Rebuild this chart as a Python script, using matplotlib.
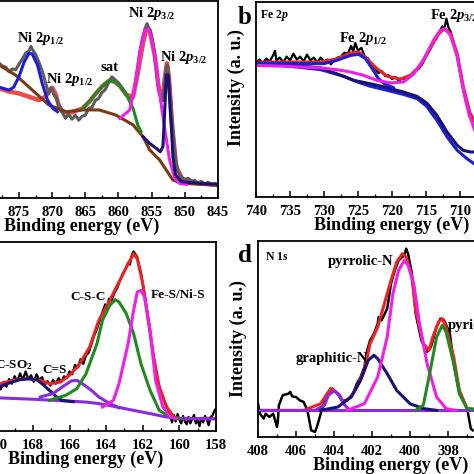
import numpy as np
import matplotlib
matplotlib.use("Agg")
import matplotlib.pyplot as plt
from matplotlib.ticker import MultipleLocator

plt.rcParams['font.family'] = ['Liberation Serif', 'DejaVu Serif']
plt.rcParams['font.weight'] = 'bold'
plt.rcParams['mathtext.fontset'] = 'custom'
plt.rcParams['mathtext.rm'] = 'Liberation Serif:bold'
plt.rcParams['mathtext.bf'] = 'Liberation Serif:bold'
plt.rcParams['mathtext.it'] = 'Liberation Serif:bold:italic'

# colours
GRAY = '#5c5c5c'
RED = '#ee2222'
BLUE = '#1c1cd8'
NAVY = '#1a1272'
BROWN = '#7a3a12'
GREEN = '#1f8a1f'
MAGENTA = '#f01ee8'
VIOLET = '#8a2be2'

# ---------------- (a) Ni 2p ----------------
a_raw_E = [878.0, 877.5, 877.0, 876.5, 876.0, 875.5, 875.0, 874.5, 874.0, 873.5, 873.2, 873.0,
           872.5, 872.0, 871.5, 871.0, 870.5, 870.2, 870.0, 869.7, 869.4, 869.0, 868.5, 868.0,
           867.5, 867.0, 866.5, 866.0, 865.5, 865.0, 864.5, 864.0, 863.5, 863.0, 862.5, 862.0,
           861.5, 861.0, 860.5, 860.0, 859.5, 859.0, 858.5, 858.0, 857.6, 857.2, 856.8, 856.4,
           856.0, 855.7, 855.4, 855.0, 854.6, 854.2, 853.8, 853.4, 853.1, 852.8, 852.6, 852.3,
           852.0, 851.7, 851.4, 851.0, 850.5, 850.0, 849.5, 849.0, 848.5, 848.0, 847.5, 847.0,
           846.5, 846.0, 845.5, 845.0]
a_raw_I = [68.5, 67.0, 66.5, 64.0, 65.5, 65.0, 68.0, 70.5, 73.5, 74.5, 77.0, 75.5,
           73.0, 69.0, 64.5, 58.5, 53.0, 56.0, 55.0, 52.0, 51.0, 47.0, 43.5, 40.5,
           42.5, 40.0, 42.0, 39.5, 41.5, 42.0, 45.5, 46.0, 49.5, 50.5, 53.5, 55.0,
           58.5, 61.5, 60.0, 58.5, 56.0, 53.5, 51.0, 50.0, 55.0, 64.0, 74.0, 81.0,
           86.0, 88.5, 86.0, 82.5, 74.0, 62.0, 53.0, 49.5, 56.0, 66.0, 67.5, 58.0,
           44.0, 31.0, 20.0, 13.0, 10.5, 9.5, 10.0, 8.5, 9.0, 7.5, 8.5, 7.0,
           8.0, 6.5, 7.5, 6.0]
a_fit_E = [878.0, 876.5, 875.0, 873.5, 872.0, 871.0, 870.5, 870.0, 869.5, 869.0, 868.5, 868.0,
           867.0, 865.4, 864.4, 863.4, 862.4, 861.4, 860.6, 859.8, 858.8, 857.8, 857.1, 856.3,
           855.8, 855.3, 854.5, 853.9, 853.4, 853.0, 852.7, 852.4, 851.9, 851.3, 850.3, 848.0, 845.0]
a_fit_I = [55.7, 54.0, 53.1, 51.4, 49.7, 51.4, 54.0, 56.0, 53.0, 47.0, 44.0, 43.5,
           43.5, 45.5, 48.9, 53.1, 56.9, 59.6, 59.1, 56.9, 52.3, 51.4, 63.3, 78.5,
           86.1, 85.3, 71.7, 54.8, 49.7, 61.6, 68.4, 61.6, 36.2, 15.9, 9.1, 7.4, 6.6]
a_bg_E = [878.0, 875.5, 873.0, 870.5, 867.9, 865.4, 862.9, 860.4, 857.8, 856.3, 855.3, 853.8,
          852.8, 851.8, 850.3, 845.0]
a_bg_I = [67.5, 62.4, 54.8, 47.2, 43.8, 44.7, 44.7, 42.1, 37.1, 31.1, 24.4, 19.3,
          14.2, 9.1, 7.4, 6.6]
a_p12_E = [878.0, 876.5, 875.8, 875.0, 874.2, 873.5, 873.0, 872.2, 871.5, 870.7, 869.9, 869.2]
a_p12_I = [56.2, 54.8, 56.2, 61.6, 69.2, 73.4, 73.1, 67.5, 58.2, 49.7, 45.5, 43.8]
a_sat_E = [865.4, 864.4, 863.4, 862.4, 861.4, 860.6, 859.8, 858.8, 857.8, 857.1, 856.6]
a_sat_I = [45.5, 48.9, 53.1, 56.9, 59.6, 59.1, 56.9, 52.3, 45.5, 37.1, 33.7]
a_p32_E = [859.8, 858.3, 857.6, 856.8, 856.1, 855.6, 855.1, 854.5, 853.8, 853.0, 852.3, 851.5,
           850.8, 849.7]
a_p32_I = [40.4, 44.7, 55.7, 73.4, 84.4, 86.1, 81.9, 71.7, 53.1, 34.5, 19.3, 10.0, 7.4, 6.9]
a_p32b_E = [856.3, 855.3, 854.3, 853.7, 853.3, 853.0, 852.9, 852.8, 852.5, 852.2, 852.0, 851.8,
            851.4, 850.5, 847.7, 845.0]
a_p32b_I = [31.1, 27.7, 25.2, 23.5, 26.1, 46.4, 54.8, 62.4, 62.4, 44.7, 34.5, 21.0,
            11.7, 8.3, 7.4, 6.9]

# ---------------- (b) Fe 2p ----------------
b_raw_E = [740.0, 739.5, 739.0, 738.5, 738.0, 737.5, 737.2, 737.0, 736.5, 736.0, 735.5, 735.0,
           734.5, 734.0, 733.5, 733.0, 732.5, 732.0, 731.5, 731.0, 730.5, 730.0, 729.5, 729.0,
           728.5, 728.0, 727.5, 727.0, 726.5, 726.0, 725.7, 725.4, 725.0, 724.5, 724.0, 723.5,
           723.0, 722.5, 722.0, 721.5, 721.0, 720.5, 720.0, 719.5, 719.0, 718.5, 718.0, 717.5,
           717.0, 716.5, 716.0, 715.5, 715.0, 714.5, 714.0, 713.5, 713.0, 712.6, 712.3, 712.0,
           711.7, 711.4, 711.0, 710.5, 710.0, 709.5, 709.0, 708.5, 708.0, 707.5]
b_raw_I = [69.0, 70.5, 68.5, 71.0, 69.5, 72.5, 75.0, 70.0, 71.5, 69.0, 72.0, 70.0,
           73.5, 70.5, 72.0, 69.5, 73.0, 70.0, 71.5, 69.0, 71.5, 69.5, 70.5, 68.0,
           70.0, 71.5, 72.0, 74.0, 73.5, 77.5, 74.5, 79.0, 75.0, 76.5, 72.0, 71.0,
           67.0, 66.0, 63.5, 64.5, 62.0, 62.5, 60.5, 61.5, 59.5, 61.0, 60.0, 62.0,
           62.5, 64.5, 66.0, 68.5, 72.0, 75.0, 78.5, 82.5, 85.0, 87.5, 86.5, 91.5,
           87.0, 85.0, 80.0, 73.0, 64.0, 54.5, 47.0, 43.0, 40.0, 37.5]
b_fit_E = [739.9, 735.4, 730.5, 728.1, 726.1, 724.9, 723.7, 722.2, 720.7, 718.8, 717.3, 715.8,
           714.3, 713.1, 712.3, 711.4, 710.4, 709.5, 708.5, 707.5]
b_fit_I = [69.2, 69.2, 69.2, 70.9, 73.8, 74.4, 70.9, 65.8, 61.9, 60.5, 62.4, 67.5,
           76.9, 83.8, 86.3, 83.8, 73.5, 56.4, 42.7, 36.5]
b_p32_E = [739.9, 735.4, 730.5, 728.1, 726.1, 724.2, 722.2, 720.2, 718.3, 716.8, 715.3, 713.9,
           712.9, 712.2, 711.4, 710.4, 709.5, 708.7, 707.5]
b_p32_I = [67.5, 67.0, 66.2, 65.3, 64.1, 62.4, 59.8, 58.5, 59.0, 63.2, 70.9, 80.3,
           85.5, 86.3, 82.9, 71.8, 54.7, 42.7, 31.0]
b_p12_E = [739.9, 733.0, 730.0, 728.1, 726.1, 724.9, 723.9, 722.9, 722.0, 721.0, 719.8]
b_p12_I = [68.7, 68.4, 68.4, 70.1, 72.6, 73.2, 70.9, 65.8, 60.7, 57.8, 56.1]
b_bg1_E = [739.9, 735.4, 730.5, 728.1, 725.6, 723.2, 720.7, 718.3, 716.3, 714.9, 713.4, 711.9,
           710.4, 709.5, 708.5, 707.5]
b_bg1_I = [68.7, 67.9, 66.2, 63.2, 59.8, 58.1, 56.1, 53.8, 51.6, 48.2, 41.9, 33.3,
           26.5, 23.9, 23.1, 23.1]
b_bg2_E = [739.9, 735.4, 730.5, 727.1, 725.1, 723.2, 720.7, 718.3, 716.3, 714.9, 713.4, 711.9,
           710.4, 709.0, 707.5]
b_bg2_I = [68.4, 67.2, 65.3, 61.9, 59.0, 56.8, 54.7, 52.6, 50.4, 46.5, 39.3, 30.8,
           23.9, 19.7, 16.0]

# ---------------- (c) S 2p ----------------
c_raw_E = [169.9, 169.75, 169.6, 169.45, 169.3, 169.15, 169.0, 168.85, 168.7, 168.55, 168.4, 168.25,
           168.1, 167.95, 167.8, 167.65, 167.5, 167.35, 167.2, 167.05, 166.9, 166.75, 166.6, 166.45,
           166.3, 166.15, 166.0, 165.85, 165.7, 165.55, 165.4, 165.25, 165.1, 164.95, 164.8, 164.65,
           164.5, 164.35, 164.2, 164.05, 163.95, 163.85, 163.7, 163.55, 163.4, 163.25, 163.1, 162.95,
           162.8, 162.7, 162.6, 162.5, 162.4, 162.3, 162.2, 162.1, 162.0, 161.9, 161.8, 161.7,
           161.6, 161.5, 161.4, 161.3, 161.2, 161.0, 160.8, 160.6, 160.5, 160.4, 160.3, 160.2,
           160.1, 160.0, 159.9, 159.8, 159.7, 159.6, 159.5, 159.4, 159.3, 159.2, 159.1, 159.0,
           158.9, 158.8, 158.7, 158.6, 158.5, 158.4, 158.3, 158.2, 158.1, 158.0]
c_raw_I = [25.5, 22.0, 26.0, 23.5, 27.5, 25.0, 29.0, 26.5, 30.5, 27.0, 31.5, 27.5,
           29.5, 26.0, 30.0, 27.0, 28.5, 24.5, 26.5, 24.0, 27.0, 25.0, 28.0, 26.0,
           29.0, 28.0, 31.5, 30.0, 35.0, 33.5, 38.0, 35.5, 40.0, 41.5, 46.0, 50.5,
           54.0, 58.5, 63.0, 67.0, 64.0, 70.0, 69.0, 73.0, 75.5, 79.5, 83.0, 85.5,
           89.0, 88.0, 93.0, 95.0, 93.5, 92.0, 87.5, 84.0, 78.0, 72.5, 66.0, 60.0,
           52.0, 44.5, 37.0, 31.0, 26.5, 21.0, 15.5, 11.0, 8.0, 4.5, 8.5, 5.0,
           9.0, 6.0, 4.0, 8.0, 5.0, 3.5, 7.5, 4.0, 6.5, 8.5, 4.0, 6.0,
           2.5, 7.0, 4.5, 8.0, 6.0, 3.0, 7.5, 8.0, 10.5, 12.0]
c_fit_E = [169.8, 169.1, 168.4, 167.6, 167.1, 166.5, 166.0, 165.5, 164.9, 164.4, 163.8, 163.3,
           162.8, 162.5, 162.3, 162.0, 161.7, 161.4, 161.1, 160.7, 160.3, 159.9, 158.0]
c_fit_I = [25.0, 26.8, 27.7, 26.8, 25.0, 25.9, 29.5, 34.7, 44.4, 58.6, 69.1, 78.8,
           88.5, 93.8, 91.2, 78.0, 58.6, 39.2, 23.3, 12.7, 7.4, 6.5, 6.5]
c_so2_E = [169.8, 169.3, 168.7, 168.2, 167.8, 167.5, 167.1, 166.7, 166.4, 165.8]
c_so2_I = [23.3, 25.4, 27.2, 27.7, 27.2, 25.0, 21.5, 18.0, 16.2, 15.5]
c_bg_E = [169.8, 168.0, 166.2, 165.1, 164.4, 163.4, 162.5, 161.6, 160.7, 159.8, 158.0]
c_bg_I = [17.5, 16.8, 15.9, 15.3, 14.5, 12.7, 10.9, 9.2, 7.4, 6.5, 6.5]
c_cs_E = [167.6, 166.9, 166.4, 165.9, 165.6, 165.3, 164.8, 164.4, 163.8, 163.3]
c_cs_I = [18.0, 19.8, 23.3, 26.5, 26.8, 25.0, 21.5, 18.0, 14.5, 12.3]
c_csc_E = [167.1, 166.2, 165.6, 165.1, 164.5, 164.2, 163.8, 163.5, 163.3, 162.9, 162.5, 162.1,
           161.6, 161.1, 160.5, 160.0]
c_csc_I = [16.2, 18.9, 22.4, 30.3, 46.2, 58.6, 66.5, 69.5, 68.3, 62.1, 51.5, 35.6,
           21.5, 10.9, 7.4, 6.5]
c_ms_E = [164.2, 163.6, 163.3, 162.8, 162.5, 162.3, 162.1, 161.9, 161.6, 161.3, 160.9, 160.5, 160.2]
c_ms_I = [12.7, 16.2, 25.0, 46.2, 63.8, 73.5, 74.4, 70.9, 53.3, 26.8, 12.7, 7.4, 6.5]

# ---------------- (d) N 1s ----------------
d_raw_E = [408.0, 407.9, 407.7, 407.6, 407.4, 407.2, 407.0, 406.96, 406.9, 406.7, 406.4, 406.3,
           406.2, 406.0, 405.8, 405.6, 405.4, 405.2, 405.0, 404.9, 404.7, 404.5, 404.3, 404.2,
           404.0, 403.8, 403.6, 403.3, 403.0, 402.8, 402.6, 402.4, 402.3, 402.1, 401.9, 401.7,
           401.65, 401.5, 401.2, 401.0, 400.8, 400.6, 400.3, 400.2, 400.1, 399.9, 399.7, 399.4,
           399.1, 398.9, 398.6, 398.4, 398.2, 397.9, 397.7, 397.4, 397.1, 396.96, 396.8, 396.7]
d_raw_I = [17.0, 11.9, 9.4, 11.9, 10.2, 11.9, 5.1, 7.7, 16.2, 21.3, 22.1, 23.0,
           20.7, 20.4, 18.7, 17.9, 13.6, 3.4, 2.6, 5.1, 11.9, 17.9, 21.3, 24.7,
           23.8, 22.1, 18.7, 18.7, 22.1, 27.2, 30.6, 35.7, 42.5, 49.3, 52.7, 57.8,
           61.2, 59.5, 65.5, 78.2, 85.0, 90.1, 92.7, 96.1, 93.5, 83.3, 62.9, 49.3,
           43.4, 45.9, 56.1, 60.4, 59.5, 52.7, 37.4, 22.1, 17.0, 12.8, 4.3, 3.4]
d_fit_E = [408.0, 405.6, 404.7, 404.3, 404.1, 403.8, 403.5, 403.1, 402.8, 402.4, 402.1, 401.7,
           401.4, 401.0, 400.7, 400.4, 400.2, 399.9, 399.7, 399.3, 399.0, 398.8, 398.5, 398.3,
           398.1, 397.7, 397.4, 397.0, 396.0]
d_fit_I = [13.6, 13.6, 17.0, 23.0, 24.7, 22.1, 17.9, 20.4, 25.5, 34.0, 47.6, 56.1,
           66.3, 79.9, 89.3, 93.5, 91.8, 81.6, 64.6, 47.6, 44.2, 51.0, 58.7, 60.4,
           56.1, 40.8, 23.8, 14.5, 13.6]
d_bg_E = [408.0, 394.0]
d_bg_I = [13.6, 13.6]
d_n4_E = [405.0, 404.5, 404.3, 404.0, 403.7, 403.5, 403.2]
d_n4_I = [13.6, 16.2, 21.3, 23.5, 21.3, 17.0, 13.9]
d_gr_E = [404.7, 403.8, 403.1, 402.6, 402.2, 401.9, 401.7, 401.2, 400.7, 400.0, 399.3, 398.6]
d_gr_I = [13.6, 15.3, 20.4, 28.9, 39.1, 41.7, 40.0, 32.3, 23.8, 17.0, 14.5, 13.6]
d_py_E = [403.3, 402.4, 401.7, 401.2, 400.9, 400.6, 400.3, 400.1, 399.8, 399.5, 399.1, 398.6,
          398.1, 397.6]
d_py_I = [13.6, 17.0, 30.6, 51.0, 73.1, 85.0, 90.1, 87.6, 78.2, 57.8, 37.4, 20.4, 14.5, 13.6]
d_pd_E = [399.7, 399.3, 399.0, 398.6, 398.3, 398.1, 397.7, 397.4, 397.0, 396.0]
d_pd_I = [13.6, 16.2, 30.6, 51.0, 57.0, 53.6, 37.4, 22.1, 14.5, 13.6]

W, H = 474.0, 474.0
fig = plt.figure(figsize=(4.74, 4.74), dpi=100)


def make_ax(left, right, top, bottom, xlim, major, minor):
    ax = fig.add_axes([left / W, 1 - bottom / H, (right - left) / W, (bottom - top) / H])
    ax.set_xlim(*xlim)
    ax.set_ylim(0, 100)
    ax.xaxis.set_major_locator(MultipleLocator(major))
    ax.xaxis.set_minor_locator(MultipleLocator(minor))
    ax.set_yticks([])
    ax.tick_params(axis='x', which='major', direction='in', length=4, width=1.1,
                   labelsize=10.5, pad=6)
    ax.tick_params(axis='x', which='minor', direction='in', length=2.5, width=1.0)
    for s in ax.spines.values():
        s.set_linewidth(1.3)
    ax.set_xlabel('Binding energy (eV)', fontsize=13, fontweight='bold', labelpad=-1)
    return ax


lw = 2.2
txt = dict(fontsize=10.5, fontweight='bold', ha='center', va='center')
txt_c = dict(fontsize=9.5, fontweight='bold', ha='center', va='center')

# (a)
ax = make_ax(-54, 218, 1, 198, (886, 845), 5, 2.5)
ax.plot(a_fit_E, a_fit_I, color='#f04a4a', lw=3.2)
ax.plot(a_raw_E, a_raw_I, color=GRAY, lw=2.2)
ax.plot(a_bg_E, a_bg_I, color=BROWN, lw=lw)
ax.plot(a_p12_E, a_p12_I, color=BLUE, lw=lw)
ax.plot(a_sat_E, a_sat_I, color=GREEN, lw=lw)
ax.plot(a_p32_E, a_p32_I, color=MAGENTA, lw=lw)
ax.plot(a_p32b_E, a_p32b_I, color=NAVY, lw=lw)
ax.text(871.7, 81.2, r'Ni 2$\mathit{p}_{\mathrm{1/2}}$', **txt)
ax.text(867.3, 59.9, r'Ni 2$\mathit{p}_{\mathrm{1/2}}$', **txt)
ax.text(861.4, 66.0, 'sat', **txt)
ax.text(855.0, 93.9, r'Ni 2$\mathit{p}_{\mathrm{3/2}}$', **txt)
ax.text(850.2, 71.1, r'Ni 2$\mathit{p}_{\mathrm{3/2}}$', **txt)

# (b)
ax = make_ax(256, 528, 2, 197, (740, 700), 5, 2.5)
ax.plot(b_raw_E, b_raw_I, color='black', lw=1.6)
ax.plot(b_fit_E, b_fit_I, color=RED, lw=lw)
ax.plot(b_bg2_E, b_bg2_I, color=BLUE, lw=lw)
ax.plot(b_bg1_E, b_bg1_I, color=NAVY, lw=lw)
ax.plot(b_p12_E, b_p12_I, color=BLUE, lw=lw)
ax.plot(b_p32_E, b_p32_I, color=MAGENTA, lw=lw)
ax.text(724.3, 81.5, r'Fe 2$\mathit{p}_{\mathrm{1/2}}$', **txt)
ax.text(714.4, 93.3, r'Fe 2$\mathit{p}_{\mathrm{3/2}}$', fontsize=10.5, fontweight='bold',
        ha='left', va='center')
ax.text(708.2, 61.0, 'Sat.', fontsize=10.5, fontweight='bold', color='#a0a0a0',
        ha='left', va='center')
ax.text(0.015, 0.93, r'Fe 2$\mathit{p}$', transform=ax.transAxes, fontsize=8.5,
        fontweight='bold', ha='left', va='center')
ax.set_ylabel('Intensity (a. u.)', fontsize=13, fontweight='bold')
ax.yaxis.set_label_coords(-0.04, 0.56)

# (c)
ax = make_ax(-44, 216, 242, 431, (172.2, 158), 2, 1)
ax.plot(c_raw_E, c_raw_I, color='black', lw=1.6)
ax.plot(c_fit_E, c_fit_I, color=RED, lw=lw)
ax.plot(c_bg_E, c_bg_I, color=VIOLET, lw=lw)
ax.plot(c_so2_E, c_so2_I, color=NAVY, lw=lw)
ax.plot(c_cs_E, c_cs_I, color=VIOLET, lw=lw)
ax.plot(c_csc_E, c_csc_I, color=GREEN, lw=lw)
ax.plot(c_ms_E, c_ms_I, color=MAGENTA, lw=lw)
ax.text(168.0, 34.9, r'C-SO$_{\mathrm{2}}$', fontsize=9.5, fontweight='bold', ha='right', va='center')
ax.text(166.8, 32.3, 'C=S', **txt_c)
ax.text(165.0, 70.9, 'C-S-C', **txt_c)
ax.text(160.1, 72.0, 'Fe-S/Ni-S', **txt_c)

# (d)
ax = make_ax(258, 524, 241, 437, (408, 394), 2, 1)
ax.plot(d_raw_E, d_raw_I, color='black', lw=1.8)
ax.plot(d_fit_E, d_fit_I, color=RED, lw=lw)
ax.plot(d_bg_E, d_bg_I, color=VIOLET, lw=lw)
ax.plot(d_n4_E, d_n4_I, color=VIOLET, lw=lw)
ax.plot(d_gr_E, d_gr_I, color=NAVY, lw=lw)
ax.plot(d_py_E, d_py_I, color=MAGENTA, lw=lw)
ax.plot(d_pd_E, d_pd_I, color=GREEN, lw=lw)
ax.text(402.6, 89.3, 'pyrrolic-N', **txt)
ax.text(404.1, 39.8, 'graphitic-N', **txt)
ax.text(398.0, 57.1, 'pyridinic-N', fontsize=10.5, fontweight='bold', ha='left', va='center')
ax.text(0.025, 0.92, r'N 1$\mathit{s}$', transform=ax.transAxes, fontsize=8.5,
        fontweight='bold', ha='left', va='center')
ax.set_ylabel('Intensity (a. u.)', fontsize=13, fontweight='bold')
ax.yaxis.set_label_coords(-0.04, 0.5)

fig.text(238 / W, 1 - 17 / H, 'b', fontsize=18, fontweight='bold', ha='left', va='center')
fig.text(238 / W, 1 - 255 / H, 'd', fontsize=18, fontweight='bold', ha='left', va='center')

fig.savefig('out.png', dpi=100)
